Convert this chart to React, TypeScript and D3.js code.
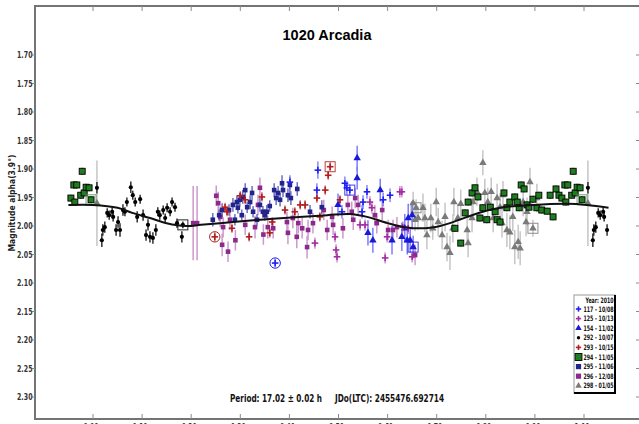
import React from 'react';
import * as d3 from 'd3';

// ---- text ----
const TITLE = '1020 Arcadia';
const Y_LABEL = 'Magnitude alpha(3.9°)';
const PERIOD_TEXT = 'Period: 17.02 ± 0.02 h';
const EPOCH_TEXT = 'JDo(LTC): 2455476.692714';
const LEGEND_TITLE = 'Year: 2010';

// ---- axes ----
const X_TICKS = [0, 0.1, 0.2, 0.3, 0.4, 0.5, 0.6, 0.7, 0.8, 0.9, 1.0];
const X_TICK_LABELS = ['0.00', '0.10', '0.20', '0.30', '0.40', '0.50', '0.60', '0.70', '0.80', '0.90', '1.00'];
const Y_TICKS = [1.7, 1.75, 1.8, 1.85, 1.9, 1.95, 2.0, 2.05, 2.1, 2.15, 2.2, 2.25, 2.3];
const Y_TICK_LABELS = ['1.70', '1.75', '1.80', '1.85', '1.90', '1.95', '2.00', '2.05', '2.10', '2.15', '2.20', '2.25', '2.30'];

// ---- Fourier fit (phase, magnitude) ----
const FIT_PHASE = [-0.05, 0.0, 0.05, 0.08, 0.116, 0.15, 0.19, 0.22, 0.285, 0.354, 0.42, 0.477, 0.523, 0.558, 0.6, 0.635, 0.676, 0.707, 0.727, 0.762, 0.794, 0.829, 0.896, 0.965, 1.006, 1.05];
const FIT_MAG = [1.963, 1.963, 1.968, 1.977, 1.986, 1.995, 2.0, 1.998, 1.993, 1.988, 1.984, 1.981, 1.979, 1.984, 1.995, 2.002, 2.004, 2.0, 1.995, 1.984, 1.975, 1.968, 1.963, 1.961, 1.963, 1.968];

// ---- sessions: [phase, magnitude, error, mark(1 = box, 2 = ring)] ----
type Obs = number[];

const S117: Obs[] = [
  [0.371, 2.065, 0.008, 2], [0.401, 1.923, 0.012], [0.456, 1.937, 0.012], [0.458, 1.902, 0.015],
  [0.507, 1.975, 0.012], [0.513, 1.925, 0.012], [0.517, 1.933, 0.012], [0.523, 1.937, 0.01, 1],
  [0.548, 1.975, 0.012], [0.55, 1.958, 0.012], [0.558, 1.94, 0.012], [0.591, 1.954, 0.012], [0.605, 1.946, 0.012],
];

const S125: Obs[] = [
  [0.452, 2.03, 0.01], [0.493, 2.019, 0.01], [0.495, 2.042, 0.01], [0.497, 2.054, 0.01],
  [0.544, 1.998, 0.01], [0.554, 1.998, 0.01], [0.564, 1.958, 0.01], [0.568, 1.968, 0.01],
  [0.595, 2.056, 0.01], [0.599, 2.019, 0.01], [0.625, 1.94, 0.01], [0.629, 1.94, 0.01],
  [0.631, 2.002, 0.01], [0.642, 2.004, 0.01], [0.65, 2.054, 0.01],
];

const S154: Obs[] = [
  [0.499, 1.963, 0.02], [0.538, 1.881, 0.022], [0.538, 1.916, 0.02], [0.56, 2.012, 0.022],
  [0.57, 2.025, 0.022], [0.585, 1.937, 0.02], [0.609, 2.025, 0.025], [0.629, 2.019, 0.025],
  [0.635, 2.004, 0.025], [0.64, 2.025, 0.025], [0.642, 1.986, 0.025], [0.646, 2.025, 0.022],
  [0.65, 1.981, 0.025], [0.652, 2.037, 0.02, 1],
];

const S292: Obs[] = [
  [0.008, 1.933, 0.01], [0.018, 2.025, 0.012], [0.02, 2.007, 0.01], [0.024, 2.002, 0.01],
  [0.029, 1.977, 0.008], [0.033, 1.981, 0.008], [0.039, 1.975, 0.008], [0.041, 1.984, 0.008],
  [0.047, 2.007, 0.01], [0.051, 1.993, 0.01], [0.055, 2.007, 0.012], [0.061, 1.972, 0.01],
  [0.065, 1.975, 0.008], [0.069, 1.958, 0.008], [0.077, 1.932, 0.01], [0.081, 1.946, 0.008],
  [0.086, 1.958, 0.008], [0.09, 1.984, 0.01], [0.096, 1.953, 0.008], [0.102, 1.981, 0.01],
  [0.108, 2.016, 0.01], [0.112, 1.998, 0.01], [0.116, 2.019, 0.01], [0.122, 2.021, 0.01],
  [0.128, 2.007, 0.01], [0.132, 1.975, 0.008], [0.136, 1.981, 0.008], [0.143, 1.972, 0.008],
  [0.147, 1.986, 0.008], [0.151, 1.968, 0.008], [0.157, 1.975, 0.008], [0.161, 1.958, 0.008],
  [0.167, 1.967, 0.008], [0.171, 1.995, 0.008], [0.181, 2.019, 0.01], [0.183, 1.998, 0.006, 1],
];

const S293: Obs[] = [
  [0.248, 2.019, 0.008, 2], [0.269, 1.967, 0.008], [0.273, 1.975, 0.008], [0.283, 2.004, 0.008],
  [0.3, 1.947, 0.008], [0.31, 1.954, 0.008], [0.318, 2.019, 0.008], [0.344, 1.949, 0.008],
  [0.36, 2.012, 0.008], [0.365, 1.993, 0.008], [0.391, 1.972, 0.008], [0.411, 1.975, 0.008],
  [0.422, 1.963, 0.008], [0.432, 1.963, 0.008], [0.456, 1.951, 0.008], [0.462, 1.984, 0.008],
  [0.473, 1.937, 0.008], [0.479, 1.911, 0.008], [0.483, 1.896, 0.008, 1], [0.503, 1.954, 0.008],
];

const S294: Obs[] = [
  [0.737, 2.004, 0.006], [0.749, 2.03, 0.006], [0.758, 1.977, 0.006], [0.764, 1.958, 0.006],
  [0.772, 1.942, 0.006], [0.778, 1.933, 0.006], [0.784, 1.949, 0.006], [0.788, 1.986, 0.006],
  [0.794, 1.968, 0.006], [0.802, 1.989, 0.006], [0.809, 1.967, 0.006], [0.819, 1.975, 0.006],
  [0.823, 1.989, 0.006], [0.829, 1.993, 0.006], [0.837, 1.942, 0.006], [0.843, 1.968, 0.006],
  [0.849, 1.958, 0.006], [0.859, 1.949, 0.006], [0.864, 1.958, 0.006], [0.868, 1.968, 0.006],
  [0.872, 1.928, 0.006], [0.878, 1.935, 0.006], [0.884, 1.963, 0.006], [0.888, 1.967, 0.006],
  [0.896, 1.953, 0.006], [0.904, 1.968, 0.006], [0.908, 1.946, 0.006], [0.914, 1.972, 0.006],
  [0.925, 1.974, 0.006], [0.931, 1.946, 0.006], [0.937, 1.984, 0.006], [0.943, 1.935, 0.006],
  [0.949, 1.946, 0.006], [0.955, 1.951, 0.006], [0.961, 1.928, 0.006], [0.963, 1.958, 0.006],
  [0.967, 1.928, 0.006], [0.975, 1.946, 0.006], [0.978, 1.904, 0.006], [0.982, 1.942, 0.006],
  [0.986, 1.932, 0.006], [0.992, 1.933, 0.006], [0.996, 1.954, 0.006, 1],
];

const S295: Obs[] = [
  [0.244, 1.989, 0.012], [0.257, 1.981, 0.01], [0.263, 1.972, 0.012], [0.277, 1.972, 0.01],
  [0.285, 1.963, 0.012], [0.289, 1.989, 0.01], [0.293, 1.958, 0.012], [0.295, 1.968, 0.01],
  [0.299, 1.954, 0.012], [0.303, 1.981, 0.01], [0.305, 1.949, 0.012], [0.31, 1.937, 0.012],
  [0.314, 1.967, 0.01], [0.32, 1.958, 0.012], [0.324, 1.942, 0.012], [0.326, 1.975, 0.01],
  [0.334, 1.989, 0.01], [0.34, 1.963, 0.012], [0.346, 1.975, 0.01], [0.35, 1.981, 0.01],
  [0.354, 1.975, 0.012], [0.36, 1.965, 0.01], [0.369, 1.937, 0.012], [0.373, 1.951, 0.012],
  [0.377, 1.942, 0.012], [0.381, 1.954, 0.012], [0.385, 1.925, 0.014], [0.387, 1.937, 0.012],
  [0.397, 1.946, 0.012], [0.401, 1.928, 0.014], [0.403, 1.951, 0.012], [0.416, 1.935, 0.012],
  [0.442, 1.975, 0.012], [0.466, 1.967, 0.012],
];

const S296: Obs[] = [
  [0.204, 1.995, 0.065], [0.212, 1.995, 0.065], [0.251, 1.947, 0.018], [0.255, 1.96, 0.02],
  [0.259, 1.984, 0.018], [0.263, 2.033, 0.02], [0.265, 2.002, 0.018], [0.275, 2.045, 0.018],
  [0.279, 1.989, 0.018], [0.29, 2.025, 0.018], [0.31, 1.998, 0.018], [0.33, 2.002, 0.02],
  [0.336, 1.963, 0.018], [0.34, 1.933, 0.018], [0.347, 2.015, 0.018], [0.356, 2.002, 0.02],
  [0.367, 2.004, 0.018], [0.395, 1.993, 0.018], [0.397, 2.012, 0.02], [0.407, 1.986, 0.018],
  [0.415, 2.019, 0.02], [0.418, 1.995, 0.018], [0.426, 2.004, 0.018], [0.436, 2.037, 0.02],
  [0.438, 2.007, 0.018], [0.448, 1.995, 0.018], [0.47, 1.972, 0.018], [0.477, 2.007, 0.018],
  [0.487, 1.984, 0.018], [0.489, 1.998, 0.018], [0.509, 2.004, 0.018], [0.519, 1.963, 0.018],
  [0.527, 1.975, 0.018], [0.53, 1.989, 0.018], [0.534, 1.951, 0.018], [0.54, 1.963, 0.018],
  [0.574, 1.981, 0.018], [0.578, 1.995, 0.018], [0.589, 1.972, 0.018], [0.601, 2.007, 0.018],
  [0.611, 2.007, 0.018], [0.619, 2.002, 0.018], [0.656, 2.051, 0.018],
];

const S298: Obs[] = [
  [0.008, 1.96, 0.075], [0.652, 1.96, 0.02], [0.656, 1.989, 0.02], [0.658, 1.968, 0.015, 1],
  [0.662, 1.986, 0.02], [0.672, 1.968, 0.025], [0.676, 1.986, 0.025], [0.68, 2.016, 0.025],
  [0.688, 1.986, 0.025], [0.692, 2.004, 0.02], [0.699, 1.958, 0.025], [0.703, 1.993, 0.025],
  [0.711, 2.016, 0.025], [0.717, 1.984, 0.025], [0.721, 2.037, 0.025], [0.727, 2.047, 0.03],
  [0.733, 2.004, 0.025], [0.735, 1.958, 0.025], [0.743, 1.986, 0.025], [0.749, 1.961, 0.025],
  [0.762, 2.007, 0.025], [0.764, 2.03, 0.025], [0.772, 1.986, 0.025], [0.774, 1.958, 0.025],
  [0.782, 1.94, 0.025], [0.794, 1.889, 0.022], [0.798, 1.942, 0.025], [0.804, 1.958, 0.025],
  [0.811, 1.94, 0.025], [0.815, 1.986, 0.025], [0.823, 1.951, 0.025], [0.829, 1.967, 0.025],
  [0.833, 1.995, 0.025], [0.835, 1.946, 0.025], [0.843, 2.007, 0.03], [0.849, 2.011, 0.03],
  [0.855, 1.984, 0.025], [0.859, 2.037, 0.03], [0.866, 2.028, 0.03], [0.87, 2.039, 0.03],
  [0.876, 1.958, 0.025], [0.882, 1.993, 0.025], [0.884, 1.975, 0.025], [0.89, 1.923, 0.025],
  [0.896, 2.004, 0.015, 1], [0.904, 1.951, 0.025],
];

type Shape = 'plus' | 'triangle' | 'dot' | 'square';
interface Session { label: string; color: string; bar: string; shape: Shape; outline?: string; data: Obs[] }

// legend order
const SESSIONS: Session[] = [
  { label: '117 - 10/08', color: '#1f1ff2', bar: '#6a6aff', shape: 'plus', data: S117 },
  { label: '125 - 10/13', color: '#a32ca3', bar: '#c77ac7', shape: 'plus', data: S125 },
  { label: '154 - 11/02', color: '#1a1ad6', bar: '#5c5cff', shape: 'triangle', data: S154 },
  { label: '292 - 10/07', color: '#000000', bar: '#1a1a1a', shape: 'dot', data: S292 },
  { label: '293 - 10/15', color: '#b01e1e', bar: '#c85050', shape: 'plus', data: S293 },
  { label: '294 - 11/05', color: '#1e7d1e', bar: '#333333', shape: 'square', outline: '#000', data: S294 },
  { label: '295 - 11/06', color: '#23238c', bar: '#4a4ab8', shape: 'square', data: S295 },
  { label: '296 - 12/08', color: '#8c2a8c', bar: '#c080c0', shape: 'square', data: S296 },
  { label: '298 - 01/05', color: '#7a7a7a', bar: '#b8b8b8', shape: 'triangle', data: S298 },
];

// drawing order (back to front)
const DRAW_ORDER = ['298 - 01/05', '294 - 11/05', '292 - 10/07', '296 - 12/08', '295 - 11/06', '293 - 10/15', '154 - 11/02', '117 - 10/08', '125 - 10/13'];

const W = 639;
const H = 424;
const FRAME = { left: 35, top: 6, bottom: 419, right: 641 };
const NARROW = "'Liberation Sans Narrow', 'Arial Narrow', 'DejaVu Sans Condensed', 'Liberation Sans', Arial, sans-serif";
const SANS = "'Liberation Sans', Arial, Helvetica, sans-serif";

const x = d3.scaleLinear().domain([0, 1]).range([93, 584]);
const y = d3.scaleLinear().domain([1.7, 2.3]).range([55, 397]);

// phase-folded points shown twice near the ends of the cycle
function expand(data: Obs[]): Obs[] {
  const out: Obs[] = [];
  for (const d of data) {
    out.push(d);
    if (d[0] > 0.95) out.push([d[0] - 1, d[1], d[2], d[3]]);
    if (d[0] < 0.05) out.push([d[0] + 1, d[1], d[2], d[3]]);
  }
  return out;
}

const triPath = d3.symbol().type(d3.symbolTriangle).size(24)() as string;
const triPathSmall = d3.symbol().type(d3.symbolTriangle).size(18)() as string;

function Marker({ s, cx, cy, legend }: { s: Session; cx: number; cy: number; legend?: boolean }) {
  const k = legend ? 0.8 : 1;
  if (s.shape === 'plus') {
    const a = 3.3 * k;
    return (
      <g stroke={s.color} strokeWidth={1.6}>
        <line x1={cx - a} x2={cx + a} y1={cy} y2={cy} />
        <line x1={cx} x2={cx} y1={cy - a} y2={cy + a} />
      </g>
    );
  }
  if (s.shape === 'triangle') {
    return <path d={legend ? triPathSmall : triPath} transform={`translate(${cx},${cy})`} fill={s.color} />;
  }
  if (s.shape === 'dot') {
    return <circle cx={cx} cy={cy} r={2.1 * k} fill={s.color} />;
  }
  const h = s.outline ? 3 * (legend ? 1.15 : 1) : (legend ? 2.6 : 2.3);
  return (
    <rect x={cx - h} y={cy - h} width={2 * h} height={2 * h} fill={s.color}
      stroke={s.outline || 'none'} strokeWidth={s.outline ? 0.9 : 0} />
  );
}

export default function App() {
  const byLabel = new Map(SESSIONS.map((s) => [s.label, s]));
  const ordered = DRAW_ORDER.map((l) => byLabel.get(l) as Session);

  const fit = d3.line<number>()
    .x((_, i) => x(FIT_PHASE[i]))
    .y((m) => y(m))
    .curve(d3.curveCatmullRom.alpha(0.5))(FIT_MAG) as string;

  const legX = 574;
  const legY = 295;
  const legW = 41;
  const legH = 98;
  const rowY = (i: number) => 309 + i * 9.6;

  return (
    <svg width={W} height={H} viewBox={`0 0 ${W} ${H}`}
      style={{ position: 'fixed', left: 0, top: 0, background: '#fff' }}>
      <rect x={0} y={0} width={W} height={H} fill="#fff" />

      {/* frame */}
      <g stroke="#747474" strokeWidth={2} fill="none">
        <line x1={FRAME.left} x2={FRAME.right} y1={FRAME.top} y2={FRAME.top} />
        <line x1={FRAME.left} x2={FRAME.left} y1={FRAME.top - 1} y2={FRAME.bottom + 1} />
        <line x1={FRAME.left} x2={FRAME.right} y1={FRAME.bottom} y2={FRAME.bottom} />
      </g>

      {/* x ticks (top and bottom, pointing inward) */}
      <g stroke="#8a8a8a" strokeWidth={1}>
        {X_TICKS.map((t) => (
          <g key={t}>
            <line x1={x(t)} x2={x(t)} y1={FRAME.top} y2={FRAME.top + 5} />
            <line x1={x(t)} x2={x(t)} y1={FRAME.bottom} y2={FRAME.bottom - 5} />
          </g>
        ))}
      </g>
      <g fontFamily={NARROW} fontWeight="bold" fontSize={9.5} fill="#333" textAnchor="middle">
        {X_TICKS.map((t, i) => (
          <text key={t} x={x(t) - 2} y={429.5} textLength={15} lengthAdjust="spacingAndGlyphs">{X_TICK_LABELS[i]}</text>
        ))}
      </g>

      {/* y ticks */}
      <g stroke="#8a8a8a" strokeWidth={1}>
        {Y_TICKS.map((t) => (
          <g key={t}>
            <line x1={FRAME.left - 3} x2={FRAME.left} y1={y(t)} y2={y(t)} />
            <line x1={636} x2={640} y1={y(t)} y2={y(t)} />
          </g>
        ))}
      </g>
      <g fontFamily={NARROW} fontWeight="bold" fontSize={9.5} fill="#333" textAnchor="end">
        {Y_TICKS.map((t, i) => (
          <text key={t} x={32.5} y={y(t) + 3.4} textLength={15.5} lengthAdjust="spacingAndGlyphs">{Y_TICK_LABELS[i]}</text>
        ))}
      </g>

      {/* axis title */}
      <text transform="translate(15,203) rotate(-90)" textAnchor="middle" fontFamily={NARROW}
        fontWeight="bold" fontSize={9.5} fill="#222" textLength={97} lengthAdjust="spacingAndGlyphs">{Y_LABEL}</text>

      {/* title */}
      <text x={327} y={40} textAnchor="middle" fontFamily={SANS} fontWeight="bold" fontSize={14.5} fill="#000">{TITLE}</text>

      {/* error bars */}
      {ordered.map((s) => (
        <g key={`e-${s.label}`} stroke={s.bar} strokeWidth={1.5} opacity={s.shape === 'dot' ? 0.9 : 0.8}>
          {expand(s.data).map((d, i) => (
            <line key={i} x1={x(d[0])} x2={x(d[0])} y1={y(d[1] - d[2])} y2={y(d[1] + d[2])} />
          ))}
        </g>
      ))}

      {/* observations */}
      {ordered.map((s) => (
        <g key={`m-${s.label}`}>
          {expand(s.data).map((d, i) => (
            <g key={i}>
              <Marker s={s} cx={x(d[0])} cy={y(d[1])} />
              {d[3] === 1 && (
                <rect x={x(d[0]) - 5} y={y(d[1]) - 5} width={10} height={10} fill="none"
                  stroke={s.shape === 'square' && s.outline ? '#5a8a5a' : s.color} strokeWidth={1} opacity={0.85} />
              )}
              {d[3] === 2 && (
                <circle cx={x(d[0])} cy={y(d[1])} r={5.2} fill="none" stroke={s.color} strokeWidth={1} />
              )}
            </g>
          ))}
        </g>
      ))}

      {/* fit */}
      <path d={fit} fill="none" stroke="#111" strokeWidth={2} />

      {/* footer */}
      <g fontFamily={NARROW} fontWeight="bold" fontSize={10} fill="#111">
        <text x={230} y={402} textLength={92} lengthAdjust="spacingAndGlyphs">{PERIOD_TEXT}</text>
        <text x={335} y={402} textLength={109} lengthAdjust="spacingAndGlyphs">{EPOCH_TEXT}</text>
      </g>

      {/* legend */}
      <g>
        <rect x={legX} y={legY} width={legW} height={legH} fill="#fff" stroke="#9a9a9a" strokeWidth={1} />
        <line x1={legX + legW} x2={legX + legW} y1={legY} y2={legY + legH + 1} stroke="#000" strokeWidth={2} />
        <line x1={legX} x2={legX + legW + 1} y1={legY + legH} y2={legY + legH} stroke="#000" strokeWidth={2} />
        <text x={613.5} y={302.5} textAnchor="end" fontFamily={NARROW} fontWeight="bold" fontSize={7.5} fill="#111"
          textLength={28} lengthAdjust="spacingAndGlyphs">{LEGEND_TITLE}</text>
        {SESSIONS.map((s, i) => (
          <g key={`l-${s.label}`}>
            <Marker s={s} cx={578.5} cy={rowY(i)} legend />
            <text x={613.5} y={rowY(i) + 2.6} textAnchor="end" fontFamily={NARROW} fontWeight="bold" fontSize={7.5}
              fill="#111" textLength={30} lengthAdjust="spacingAndGlyphs">{s.label}</text>
          </g>
        ))}
      </g>
    </svg>
  );
}
